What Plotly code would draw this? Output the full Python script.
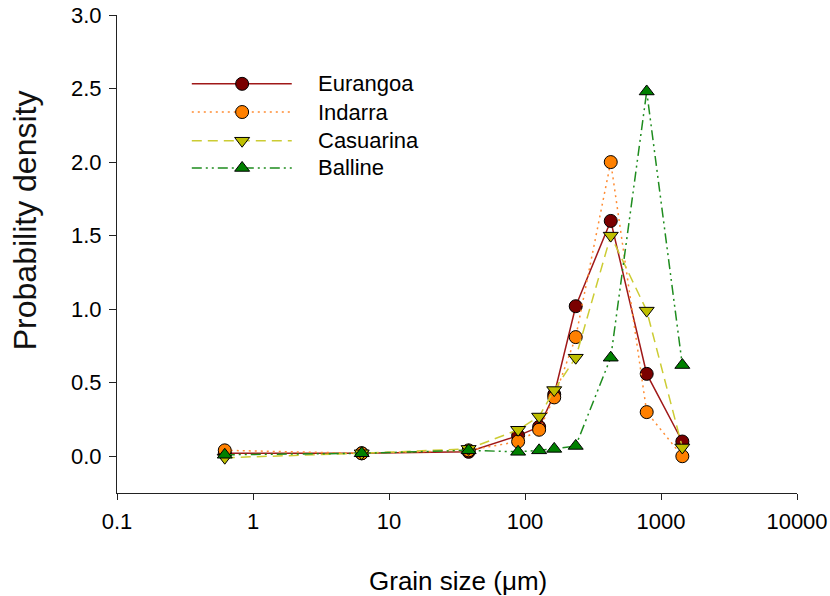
import plotly.graph_objects as go

# ---- data ----
grain_size = [0.62, 6.3, 38.5, 89, 127, 164, 236, 427, 785, 1435]
eurangoa  = [0.02, 0.02, 0.03, 0.14, 0.20, 0.42, 1.02, 1.60, 0.56, 0.10]
indarra   = [0.04, 0.02, 0.04, 0.10, 0.18, 0.40, 0.81, 2.00, 0.30, 0.00]
casuarina = [-0.01, 0.02, 0.05, 0.18, 0.27, 0.45, 0.67, 1.50, 0.99, 0.06]
balline   = [0.01, 0.02, 0.04, 0.03, 0.04, 0.05, 0.07, 0.67, 2.48, 0.62]

series_names = ["Eurangoa", "Indarra", "Casuarina", "Balline"]
x_tickvals = [0.1, 1, 10, 100, 1000, 10000]
x_ticktext = ["0.1", "1", "10", "100", "1000", "10000"]
y_tickvals = [0.0, 0.5, 1.0, 1.5, 2.0, 2.5, 3.0]
y_ticktext = ["0.0", "0.5", "1.0", "1.5", "2.0", "2.5", "3.0"]
x_title = "Grain size (\u03bcm)"
y_title = "Probability density"

styles = {
    "Eurangoa":  dict(line=dict(color="#A01818", width=1.5, dash="solid"),
                      marker=dict(symbol="circle", color="#7A0000", size=13,
                                  line=dict(color="#000000", width=1))),
    "Indarra":   dict(line=dict(color="#FF8C33", width=1.5, dash="2px,4px"),
                      marker=dict(symbol="circle", color="#FF8000", size=13,
                                  line=dict(color="#000000", width=1))),
    "Casuarina": dict(line=dict(color="#CCCC33", width=1.5, dash="10px,6px"),
                      marker=dict(symbol="triangle-down", color="#BFBF00", size=13,
                                  line=dict(color="#000000", width=1))),
    "Balline":   dict(line=dict(color="#1E8C1E", width=1.5, dash="10px,4px,2px,4px,2px,4px"),
                      marker=dict(symbol="triangle-up", color="#008000", size=13,
                                  line=dict(color="#000000", width=1))),
}
values = {"Eurangoa": eurangoa, "Indarra": indarra,
          "Casuarina": casuarina, "Balline": balline}

FONT = "Liberation Sans, Arial, sans-serif"

fig = go.Figure()
for name in series_names:
    st = styles[name]
    fig.add_trace(go.Scatter(x=grain_size, y=values[name], mode="lines+markers",
                             name=name, line=st["line"], marker=st["marker"],
                             showlegend=False, cliponaxis=False))

# ---- custom legend (overlay axes in fractional plot coordinates) ----
leg_x0, leg_xm, leg_x1 = 0.110, 0.184, 0.257
leg_rows = [0.856, 0.797, 0.737, 0.680]
leg_text_x = 0.292
for name, ry in zip(series_names, leg_rows):
    st = styles[name]
    fig.add_trace(go.Scatter(x=[leg_x0, leg_x1], y=[ry, ry], mode="lines",
                             line=st["line"], xaxis="x2", yaxis="y2",
                             showlegend=False, hoverinfo="skip"))
    fig.add_trace(go.Scatter(x=[leg_xm], y=[ry], mode="markers",
                             marker=st["marker"], xaxis="x2", yaxis="y2",
                             showlegend=False, hoverinfo="skip"))
    fig.add_annotation(x=leg_text_x, y=ry, xref="x2", yref="y2", text=name,
                       showarrow=False, xanchor="left", yanchor="middle",
                       font=dict(family=FONT, size=22, color="#000000"))

# axis titles as annotations (paper-pixel placement)
fig.add_annotation(x=0.5015, y=-0.185, xref="paper", yref="paper", text=x_title,
                   showarrow=False, xanchor="center", yanchor="middle",
                   font=dict(family=FONT, size=26, color="#000000"))
fig.add_annotation(x=-0.135, y=0.571, xref="paper", yref="paper", text=y_title,
                   textangle=-90, showarrow=False, xanchor="center", yanchor="middle",
                   font=dict(family=FONT, size=32, color="#111111"))

fig.update_layout(
    width=830, height=596,
    margin=dict(l=117, r=33, t=15, b=103, autoexpand=False),
    paper_bgcolor="white", plot_bgcolor="white",
    font=dict(family=FONT, color="#000000"),
    xaxis=dict(type="log", range=[-1, 4], tickvals=x_tickvals, ticktext=x_ticktext,
               showline=True, linecolor="#222222", linewidth=1,
               ticks="outside", ticklen=6, tickcolor="#222222",
               showgrid=False, zeroline=False, mirror=False, automargin=False,
               ticklabelstandoff=3, tickfont=dict(size=22)),
    yaxis=dict(range=[-0.25, 3.0], tickvals=y_tickvals, ticktext=y_ticktext,
               showline=True, linecolor="#222222", linewidth=1,
               ticks="outside", ticklen=7, tickcolor="#222222",
               showgrid=False, zeroline=False, mirror=False, automargin=False,
               ticklabelstandoff=3, tickfont=dict(size=22)),
    xaxis2=dict(overlaying="x", range=[0, 1], visible=False, domain=[0, 1]),
    yaxis2=dict(overlaying="y", range=[0, 1], visible=False),
)

fig.write_html("out.html")
